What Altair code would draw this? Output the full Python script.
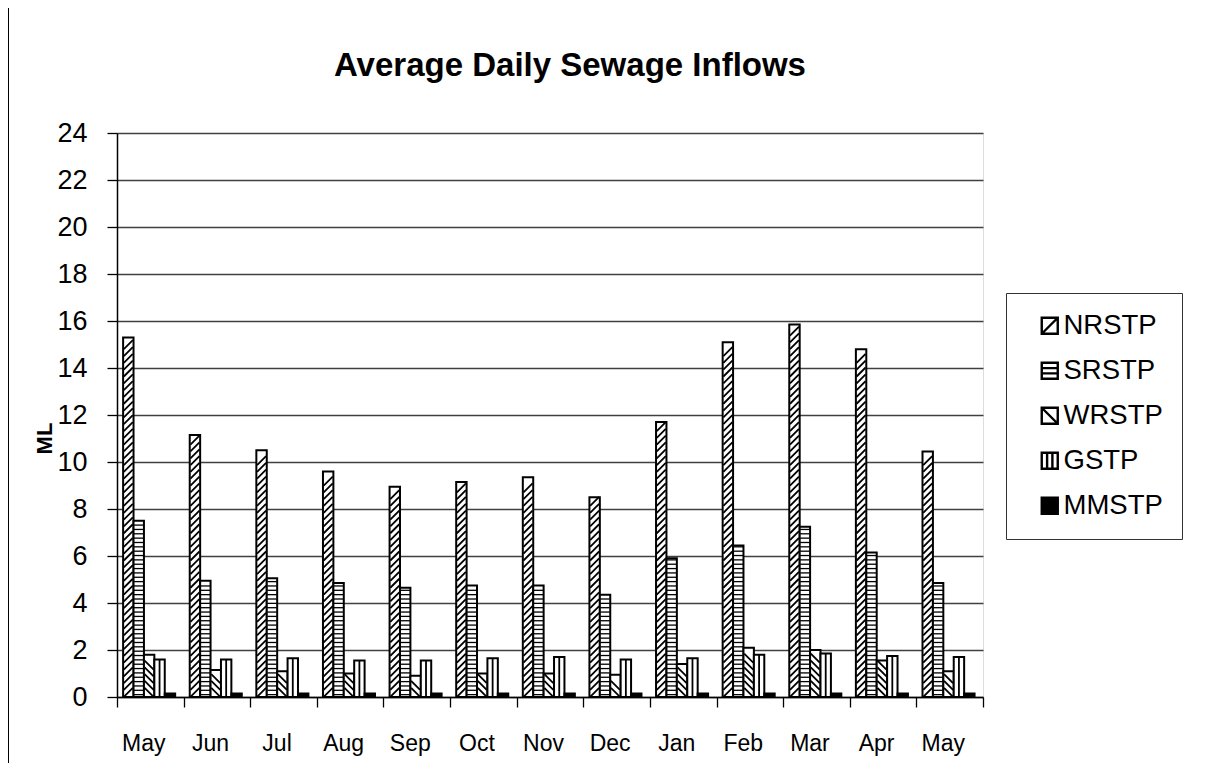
import altair as alt
import pandas as pd

# ---- data ----
months = ["May", "Jun", "Jul", "Aug", "Sep", "Oct", "Nov", "Dec", "Jan", "Feb", "Mar", "Apr", "May"]
series = ["NRSTP", "SRSTP", "WRSTP", "GSTP", "MMSTP"]
nrstp = [15.3, 11.15, 10.5, 9.6, 8.95, 9.15, 9.35, 8.5, 11.7, 15.1, 15.85, 14.8, 10.45]
srstp = [7.5, 4.95, 5.05, 4.85, 4.65, 4.75, 4.75, 4.35, 5.9, 6.45, 7.25, 6.15, 4.85]
wrstp = [1.8, 1.15, 1.1, 1.0, 0.9, 1.0, 1.0, 0.95, 1.4, 2.1, 2.0, 1.55, 1.1]
gstp = [1.6, 1.6, 1.65, 1.55, 1.55, 1.65, 1.7, 1.6, 1.65, 1.8, 1.85, 1.75, 1.7]
mmstp = [0.15, 0.15, 0.15, 0.15, 0.15, 0.15, 0.15, 0.15, 0.15, 0.15, 0.15, 0.15, 0.15]
y_ticks = [0, 2, 4, 6, 8, 10, 12, 14, 16, 18, 20, 22, 24]

# unique keys for the two "May" categories; label shows the month only
slots = [f"{i:02d}|{m}" for i, m in enumerate(months)]
values = {"NRSTP": nrstp, "SRSTP": srstp, "WRSTP": wrstp, "GSTP": gstp, "MMSTP": mmstp}
rows = [{"slot": s, "series": name, "value": v}
        for name in series for s, v in zip(slots, values[name])]
df = pd.DataFrame(rows)

FONT = "Liberation Sans"

fill_scale = alt.Scale(domain=series, range=["white", "white", "white", "white", "black"])
legend_paths = [
    "M-1,-1H1V1H-1Z M-1,1L1,-1",
    "M-1,-1H1V1H-1Z M-1,-0.33H1 M-1,0.33H1",
    "M-1,-1H1V1H-1Z M-1,-1L1,1",
    "M-1,-1H1V1H-1Z M-0.33,-1V1 M0.33,-1V1",
    "M-1,-1H1V1H-1Z",
]

x_enc = alt.X(
    "slot:N", sort=slots, title=None,
    scale=alt.Scale(paddingInner=0, paddingOuter=0),
    axis=alt.Axis(labelExpr="split(datum.label, '|')[1]", labelAngle=0, tickBand="extent",
                  tickSize=10, labelPadding=25, labelFontSize=23, labelOffset=-7, grid=False,
                  domainColor="black", domainWidth=1.5, tickColor="black", tickWidth=1.3),
)
xo_enc = alt.XOffset("series:N", sort=series,
                     scale=alt.Scale(domain=series, paddingInner=0, paddingOuter=0.7, align=0.42))
y_scale = alt.Scale(domain=[0, 24], nice=False)
y_axis = alt.Axis(values=y_ticks, title="ML", labelFontSize=27, labelPadding=20, tickSize=10,
                  tickColor="black", tickWidth=1.3, domainColor="black", domainWidth=1.5,
                  grid=True, gridColor="#404040", gridWidth=1.4,
                  titleFontSize=22, titleFontWeight="bold", titleAngle=270,
                  titleX=-73, titleY=305, titleAlign="center", titleBaseline="middle")

base = alt.Chart(df)

legend_spec = alt.Legend(
    title=None, orient="none", legendX=889, legendY=160,
    labelFont=FONT, labelFontSize=27.5, labelColor="black", labelOffset=0,
    symbolSize=256, symbolStrokeColor="black", symbolStrokeWidth=2.4, symbolOffset=11,
    rowPadding=16, padding=19, strokeColor="#333333", fillColor="white",
)

bars = base.mark_bar(stroke="black", strokeWidth=2).encode(
    x=x_enc, xOffset=xo_enc,
    y=alt.Y("value:Q", scale=y_scale, axis=y_axis),
    fill=alt.Fill("series:N", scale=fill_scale, legend=legend_spec),
)


def stripe_layer(name, expr, shape, size, width):
    return (
        base.transform_filter(alt.datum.series == name)
        .transform_calculate(s=expr)
        .transform_flatten(["s"])
        .mark_point(shape=shape, size=size, filled=False, color="black",
                    strokeWidth=width, opacity=1)
        .encode(x=x_enc, xOffset=xo_enc, y=alt.Y("s:Q", scale=y_scale, axis=y_axis))
    )


nr = stripe_layer("NRSTP", "sequence(0.2, datum.value - 0.17, 0.29)", "M-1,1L1,-1", 81, 1.8)
sr = stripe_layer("SRSTP", "sequence(0.1, datum.value - 0.05, 0.185)", "M-1,0L1,0", 90, 1.3)
wr = stripe_layer("WRSTP", "sequence(0.2, datum.value - 0.17, 0.29)", "M-1,-1L1,1", 81, 1.8)

gs = base.transform_filter(alt.datum.series == "GSTP").mark_rule(color="black", strokeWidth=1.8).encode(
    x=x_enc, xOffset=xo_enc,
    y=alt.Y("value:Q", scale=y_scale, axis=y_axis),
    y2=alt.datum(0),
)

legend_layer = base.transform_filter("false").mark_point(filled=True, opacity=1, stroke="black").encode(
    x=x_enc, xOffset=xo_enc,
    y=alt.Y("value:Q", scale=y_scale, axis=y_axis),
    fill=alt.Fill("series:N", scale=fill_scale, legend=legend_spec),
    shape=alt.Shape("series:N", scale=alt.Scale(domain=series, range=legend_paths), legend=legend_spec),
)

# chart-area frame line on the left edge (decoration)
frame = alt.Chart(alt.Data(values=[{}])).mark_rule(color="black", strokeWidth=1).encode(
    x=alt.value(-108.5), y=alt.value(-125), y2=alt.value(630)
)

chart = (
    alt.layer(bars, nr, sr, wr, gs, legend_layer, frame)
    .properties(
        width=866, height=564,
        autosize=alt.AutoSizeParams(type="none"),
        padding={"left": 109, "top": 125, "right": 214, "bottom": 66},
        title=alt.TitleParams("Average Daily Sewage Inflows", font=FONT,
                              fontSize=33, fontWeight="bold", color="black", anchor="middle",
                              baseline="alphabetic", offset=11, dx=20, dy=112),
    )
    .configure_axis(labelFont=FONT, titleFont=FONT, labelColor="black", titleColor="black")
    .configure_view(stroke="#404040", strokeWidth=1.4)
    .configure(background="white")
)

chart.save("out.html", embed_options={"renderer": "svg", "actions": False})
